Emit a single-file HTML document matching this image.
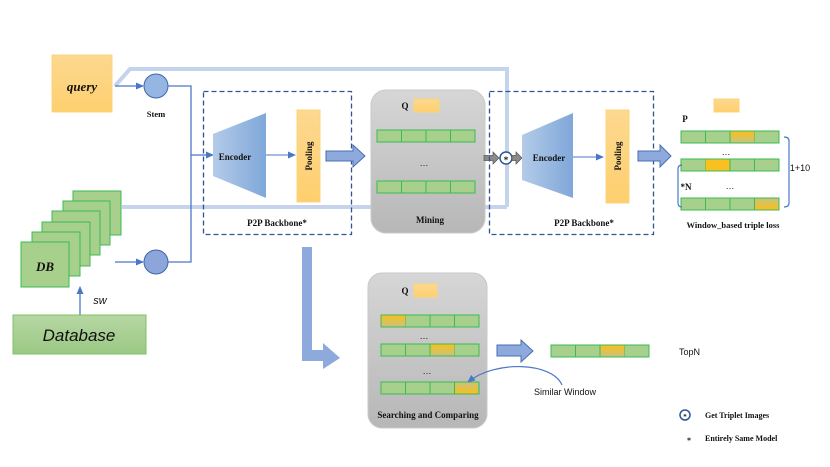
<!DOCTYPE html>
<html><head><meta charset="utf-8"><style>body{margin:0;background:#fff}svg{display:block}
.t{font-family:"Liberation Serif",serif;font-weight:bold;fill:#111}
.s{font-family:"Liberation Sans",sans-serif;fill:#111}</style></head><body>
<svg width="830" height="467" viewBox="0 0 830 467" xmlns="http://www.w3.org/2000/svg">
<defs>
<linearGradient id="og" x1="0" y1="0" x2="0" y2="1"><stop offset="0" stop-color="#fdd890"/><stop offset="1" stop-color="#fdcf6e"/></linearGradient>
<linearGradient id="eg" x1="0" y1="0" x2="1" y2="0"><stop offset="0" stop-color="#b4cbe9"/><stop offset="1" stop-color="#7fa7d9"/></linearGradient>
<linearGradient id="gg" x1="0" y1="0" x2="0" y2="1"><stop offset="0" stop-color="#d6d6d6"/><stop offset="1" stop-color="#b7b7b7"/></linearGradient>
<linearGradient id="hl" x1="0" y1="0" x2="0" y2="1"><stop offset="0" stop-color="#f8c020"/><stop offset="1" stop-color="#c9c27a"/></linearGradient>
<linearGradient id="hl2" x1="0" y1="0" x2="0" y2="1"><stop offset="0" stop-color="#c9c27a"/><stop offset="1" stop-color="#f8c020"/></linearGradient>
<linearGradient id="dbg" x1="0" y1="0" x2="0" y2="1"><stop offset="0" stop-color="#b6d7a3"/><stop offset="1" stop-color="#9bc884"/></linearGradient>
<marker id="a" markerWidth="8" markerHeight="8" refX="7" refY="4" orient="auto" markerUnits="userSpaceOnUse"><path d="M0,0.5 L8,4 L0,7.5z" fill="#4a78c8"/></marker>
<g id="row"><rect x="0" y="0" width="98" height="12" fill="#a8d08d" stroke="#3cba54" stroke-width="1"/><line x1="24.5" y1="0" x2="24.5" y2="12" stroke="#3cba54"/><line x1="49" y1="0" x2="49" y2="12" stroke="#3cba54"/><line x1="73.5" y1="0" x2="73.5" y2="12" stroke="#3cba54"/></g>
</defs>

<!-- faint lines -->
<g stroke="#c5d3ec" stroke-width="4" fill="none">
<path d="M115,86 L130,69 L507,69 L507,207"/>
<line x1="122" y1="207" x2="507" y2="207"/>
</g>

<!-- query -->
<rect x="52" y="55" width="60" height="57" fill="url(#og)" stroke="#fcd57a"/>
<text x="82" y="91" class="t" font-size="13" font-style="italic" text-anchor="middle">query</text>
<line x1="115" y1="86" x2="143" y2="86" stroke="#4a78c8" stroke-width="1.3" marker-end="url(#a)"/>
<circle cx="156" cy="86" r="12" fill="#95b5e3" stroke="#3e67a8"/>
<text x="156" y="117" class="t" font-size="8.5" text-anchor="middle">Stem</text>
<path d="M168,86 H191 V262 H168" stroke="#4a78c8" stroke-width="1.3" fill="none"/>
<line x1="191" y1="155" x2="213" y2="155" stroke="#4a78c8" stroke-width="1.3" marker-end="url(#a)"/>

<!-- DB stack -->
<g fill="#a8d08d" stroke="#3cba54" stroke-width="1">
<rect x="73" y="191" width="48" height="44"/>
<rect x="63" y="201" width="47" height="44"/>
<rect x="52" y="211" width="48" height="44"/>
<rect x="42" y="222" width="48" height="44"/>
<rect x="32" y="232" width="48" height="44"/>
<rect x="21" y="242" width="48" height="45"/>
</g>
<text x="45" y="271" class="t" font-size="13" font-style="italic" text-anchor="middle">DB</text>
<line x1="115" y1="262" x2="143" y2="262" stroke="#4a78c8" stroke-width="1.3" marker-end="url(#a)"/>
<circle cx="156" cy="262" r="12" fill="#8ca5db" stroke="#3e67a8"/>
<line x1="80" y1="315" x2="80" y2="287" stroke="#4a78c8" stroke-width="1.3" marker-end="url(#a)"/>
<text x="100" y="304" class="s" font-size="11" font-style="italic" text-anchor="middle">sw</text>
<rect x="13" y="315" width="133" height="39" fill="url(#dbg)" stroke="#7fc06a"/>
<text x="79" y="341" class="s" font-size="17" font-style="italic" text-anchor="middle">Database</text>

<!-- backbone 1 -->
<rect x="203.5" y="91.5" width="148" height="143" fill="none" stroke="#2f5597" stroke-width="1.3" stroke-dasharray="5,3"/>
<polygon points="213,134 266,113 266,198 213,176" fill="url(#eg)"/>
<text x="235" y="160" class="t" font-size="9" text-anchor="middle">Encoder</text>
<line x1="266" y1="155" x2="295" y2="155" stroke="#4a78c8" stroke-width="1" marker-end="url(#a)"/>
<rect x="297" y="110" width="23" height="92" fill="url(#og)" stroke="#fcd57a"/>
<text transform="translate(312,156) rotate(-90)" class="t" font-size="9" text-anchor="middle">Pooling</text>
<polygon points="326,151 353,151 353,145 365,156 353,167 353,161 326,161" fill="#8ea9db" stroke="#4a6fb5"/>
<text x="277" y="226" class="t" font-size="9" text-anchor="middle">P2P Backbone*</text>

<!-- mining -->
<rect x="371" y="90" width="114" height="143" rx="15" fill="url(#gg)" stroke="#c9c9c9"/>
<text x="405" y="109" class="t" font-size="9" text-anchor="middle">Q</text>
<rect x="414" y="99" width="25" height="13" fill="url(#og)" stroke="#fcd57a"/>
<use href="#row" x="377" y="130"/>
<text x="424" y="166" class="s" font-size="9" text-anchor="middle">…</text>
<use href="#row" x="377" y="181"/>
<text x="430" y="223" class="t" font-size="9" text-anchor="middle">Mining</text>

<!-- star connector -->
<polygon points="484,155.5 493,155.5 493,152 499,158 493,164 493,160.5 484,160.5" fill="#8a8a8a" stroke="#555" stroke-width="0.7"/>
<circle cx="506" cy="158" r="6" fill="#fff" stroke="#2f5597" stroke-width="1.5"/>
<text x="506" y="163" class="t" font-size="9" text-anchor="middle">*</text>
<polygon points="512,155.5 516,155.5 516,152 522,158 516,164 516,160.5 512,160.5" fill="#8a8a8a" stroke="#555" stroke-width="0.7"/>

<!-- backbone 2 -->
<rect x="489.5" y="91.5" width="164" height="143" fill="none" stroke="#2f5597" stroke-width="1.3" stroke-dasharray="5,3"/>
<polygon points="522,135 573,113 573,198 522,180" fill="url(#eg)"/>
<text x="549" y="161" class="t" font-size="9" text-anchor="middle">Encoder</text>
<line x1="573" y1="157" x2="603" y2="157" stroke="#4a78c8" stroke-width="1" marker-end="url(#a)"/>
<rect x="606" y="110" width="23" height="93" fill="url(#og)" stroke="#fcd57a"/>
<text x="621" y="156" transform="rotate(-90 621 156)" class="t" font-size="9" text-anchor="middle">Pooling</text>
<polygon points="638,151 660,151 660,145 671,156 660,167 660,161 638,161" fill="#8ea9db" stroke="#4a6fb5"/>
<text x="584" y="226" class="t" font-size="9" text-anchor="middle">P2P Backbone*</text>

<!-- right loss -->
<rect x="714" y="99" width="25" height="13" fill="url(#og)" stroke="#fcd57a"/>
<text x="685" y="122" class="t" font-size="9" text-anchor="middle">P</text>
<use href="#row" x="681" y="131"/>
<rect x="730.5" y="131.5" width="24" height="11" fill="url(#hl)"/>
<text x="726" y="155" class="s" font-size="9" text-anchor="middle">…</text>
<use href="#row" x="681" y="159"/>
<rect x="705.5" y="159.5" width="24" height="11" fill="#f8c020"/>
<text x="686" y="190" class="t" font-size="9" text-anchor="middle">*N</text>
<text x="730" y="189" class="s" font-size="9" text-anchor="middle">…</text>
<use href="#row" x="681" y="198"/>
<rect x="755" y="198.5" width="23.5" height="11" fill="url(#hl2)"/>
<path d="M784,137 Q789,137 789,141 V203 Q789,207 784,207" fill="none" stroke="#4a78c8" stroke-width="1.2"/>
<path d="M682,165 Q678,165 678,169 V203 Q678,207 682,207" fill="none" stroke="#4a78c8" stroke-width="1.2"/>
<text x="800" y="171" class="s" font-size="9" text-anchor="middle">1+10</text>
<text x="733" y="228" class="t" font-size="8.5" text-anchor="middle">Window_based triple loss</text>

<!-- big down arrow -->
<polygon points="302,247 312,247 312,350 323,350 323,343 340,358 323,369 323,361 302,361" fill="#8ea9db"/>

<!-- search box -->
<rect x="368" y="273" width="119" height="155" rx="14" fill="url(#gg)" stroke="#c9c9c9"/>
<text x="405" y="294" class="t" font-size="9" text-anchor="middle">Q</text>
<rect x="414" y="284" width="23" height="13" fill="url(#og)" stroke="#fcd57a"/>
<use href="#row" x="381" y="315"/>
<rect x="381.5" y="315.5" width="24" height="11" fill="url(#hl)"/>
<text x="424" y="339" class="s" font-size="9" text-anchor="middle">…</text>
<use href="#row" x="381" y="344"/>
<rect x="430.5" y="344.5" width="24" height="11" fill="url(#hl)"/>
<text x="427" y="374" class="s" font-size="9" text-anchor="middle">…</text>
<use href="#row" x="381" y="382"/>
<rect x="455" y="382.5" width="23" height="11" fill="url(#hl2)"/>
<text x="428" y="418" class="t" font-size="9" text-anchor="middle">Searching and Comparing</text>

<polygon points="497,345 521,345 521,340 533,351 521,362 521,356 497,356" fill="#8ea9db" stroke="#4a6fb5"/>
<use href="#row" x="551" y="345"/>
<rect x="600.5" y="345.5" width="24" height="11" fill="url(#hl)"/>
<text x="679" y="355" class="s" font-size="9">TopN</text>
<path d="M562,385 C552,362 495,360 468,382" fill="none" stroke="#4a78c8" stroke-width="1.2" marker-end="url(#a)"/>
<text x="565" y="395" class="s" font-size="9" text-anchor="middle">Similar Window</text>

<!-- legend -->
<circle cx="685" cy="415" r="5" fill="#fff" stroke="#2f5597" stroke-width="1.5"/>
<text x="685" y="419" class="t" font-size="7" text-anchor="middle">*</text>
<text x="705" y="418" class="t" font-size="8">Get Triplet Images</text>
<text x="689" y="443" class="t" font-size="8" text-anchor="middle">*</text>
<text x="705" y="441" class="t" font-size="8">Entirely Same Model</text>
</svg>
</body></html>
